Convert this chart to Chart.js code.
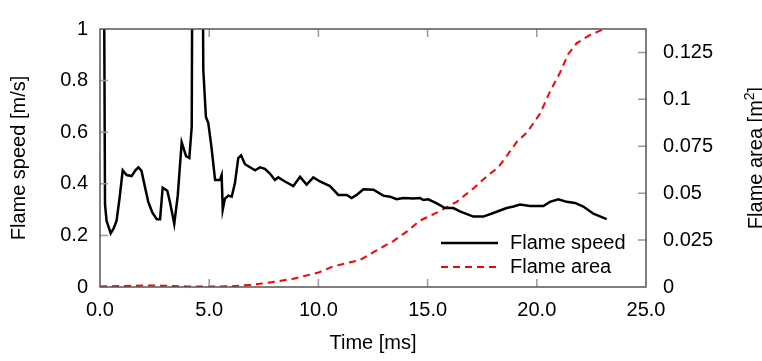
<!DOCTYPE html>
<html><head><meta charset="utf-8">
<script src="https://cdn.jsdelivr.net/npm/chart.js@4/dist/chart.umd.min.js"></script>
<style>html,body{margin:0;padding:0;background:#fff;}#wrap{width:762px;height:361px;}</style>
</head><body><div id="wrap"><canvas id="c" width="762" height="361"></canvas></div>
<script>
const speedTime = [0.18,0.23,0.30,0.49,0.62,0.76,0.90,1.04,1.22,1.45,1.62,1.76,1.90,2.05,2.21,2.40,2.60,2.75,2.87,3.08,3.20,3.40,3.56,3.74,3.94,4.09,4.20,4.28,4.62,4.73,4.85,4.96,5.11,5.27,5.49,5.57,5.62,5.72,5.88,6.03,6.18,6.33,6.46,6.64,6.87,7.10,7.33,7.55,7.78,8.01,8.16,8.47,8.85,9.16,9.46,9.77,10.07,10.53,10.91,11.30,11.52,11.75,12.06,12.52,12.97,13.28,13.58,13.89,14.35,14.65,14.80,15.03,15.42,15.80,16.18,16.48,17.09,17.55,18.01,18.62,18.93,19.23,19.69,20.30,20.60,20.99,21.37,21.75,22.13,22.59,23.20];
const speedValue = [1.3,0.32,0.257,0.208,0.226,0.257,0.348,0.452,0.434,0.43,0.452,0.464,0.45,0.391,0.33,0.288,0.263,0.263,0.385,0.373,0.33,0.245,0.354,0.561,0.507,0.50,0.622,2.5,2.5,0.841,0.659,0.635,0.537,0.415,0.415,0.434,0.30,0.342,0.354,0.35,0.403,0.50,0.51,0.476,0.464,0.452,0.464,0.458,0.44,0.415,0.425,0.409,0.391,0.427,0.397,0.425,0.409,0.391,0.357,0.357,0.345,0.357,0.379,0.377,0.354,0.35,0.34,0.345,0.343,0.345,0.337,0.34,0.324,0.306,0.306,0.293,0.273,0.273,0.287,0.306,0.312,0.32,0.314,0.314,0.33,0.34,0.33,0.326,0.312,0.284,0.263];
const areaTime = [0,1,2,3,4,5,6,7,8,8.85,10.0,10.68,11.9,12.52,13.43,14.04,14.65,15.42,16.33,17.09,17.7,18.24,18.62,19.08,19.54,20.15,20.6,21.06,21.44,21.83,22.44,23.12];
const areaValue = [0.0003,0.0005,0.0008,0.0007,0.0003,0.0002,0.0004,0.0012,0.0028,0.0044,0.0077,0.011,0.0144,0.0186,0.0245,0.0295,0.0354,0.0396,0.0454,0.0525,0.0589,0.0639,0.0698,0.0773,0.0823,0.0924,0.1041,0.1142,0.1242,0.130,0.1343,0.1377];
const xTicks = [0,5,10,15,20,25];
const xTickLabels = ["0.0","5.0","10.0","15.0","20.0","25.0"];
const leftTicks = [0,0.2,0.4,0.6,0.8,1];
const leftTickLabels = ["0","0.2","0.4","0.6","0.8","1"];
const rightTicks = [0,0.025,0.05,0.075,0.1,0.125];
const rightTickLabels = ["0","0.025","0.05","0.075","0.1","0.125"];
const seriesNames = ["Flame speed","Flame area"];

const FONT = "'Liberation Sans', Arial, sans-serif";
function setTicks(vals){ return function(scale){ scale.ticks = vals.map(v=>({value:v})); }; }
function labelCb(vals, labels){ return function(v){ const i = vals.findIndex(t=>Math.abs(t-v)<1e-9); return i>=0?labels[i]:''; }; }

const deco = {
  id:'deco',
  afterDraw(chart){
    const ctx = chart.ctx, a = chart.chartArea;
    const sx = chart.scales.x, sy = chart.scales.y, sy2 = chart.scales.y2;
    ctx.save();
    ctx.strokeStyle = '#9a9a9a'; ctx.lineWidth = 1.5;
    const L = 8;
    ctx.beginPath();
    xTicks.forEach(v=>{ const p = sx.getPixelForValue(v); if (p>a.left+1 && p<a.right-1){ ctx.moveTo(p,a.bottom); ctx.lineTo(p,a.bottom-L); ctx.moveTo(p,a.top); ctx.lineTo(p,a.top+L);} });
    leftTicks.forEach(v=>{ const p = sy.getPixelForValue(v); if (p>a.top+1 && p<a.bottom-1){ ctx.moveTo(a.left,p); ctx.lineTo(a.left+L,p);} });
    rightTicks.forEach(v=>{ const p = sy2.getPixelForValue(v); if (p>a.top+1 && p<a.bottom-1){ ctx.moveTo(a.right,p); ctx.lineTo(a.right-L,p);} });
    ctx.stroke();
    ctx.strokeStyle = '#555'; ctx.lineWidth = 1.5;
    ctx.strokeRect(a.left, a.top, a.right-a.left, a.bottom-a.top);
    // right axis title (reads bottom to top) with superscript
    ctx.fillStyle = '#000';
    ctx.translate(754, (a.top+a.bottom)/2);
    ctx.rotate(-Math.PI/2);
    ctx.textAlign = 'left'; ctx.textBaseline = 'alphabetic';
    const main = '20px ' + FONT, sup = '14px ' + FONT;
    const p1 = 'Flame area [m', p2 = '2', p3 = ']';
    ctx.font = main; const w1 = ctx.measureText(p1).width, w3 = ctx.measureText(p3).width;
    ctx.font = sup; const w2 = ctx.measureText(p2).width;
    let x0 = -(w1+w2+w3)/2;
    ctx.font = main; ctx.fillText(p1, x0, 8);
    ctx.font = sup; ctx.fillText(p2, x0+w1, 0);
    ctx.font = main; ctx.fillText(p3, x0+w1+w2, 8);
    ctx.restore();
    // legend
    ctx.save();
    const ds = chart.data.datasets;
    const ys = [243, 267];
    ds.forEach((d,i)=>{
      ctx.strokeStyle = d.borderColor; ctx.lineWidth = d.borderWidth;
      ctx.setLineDash(d.borderDash || []);
      ctx.beginPath(); ctx.moveTo(441, ys[i]); ctx.lineTo(498, ys[i]); ctx.stroke();
      ctx.setLineDash([]);
      ctx.fillStyle = '#000'; ctx.font = '20px ' + FONT;
      ctx.textAlign = 'left'; ctx.textBaseline = 'middle';
      ctx.fillText(d.label, 510, ys[i]);
    });
    ctx.restore();
  }
};

new Chart(document.getElementById('c'), {
  type: 'line',
  data: {
    datasets: [
      { label: seriesNames[0], data: speedTime.map((t,i)=>({x:t,y:speedValue[i]})), yAxisID:'y',
        borderColor:'#000', borderWidth:2.5, pointRadius:0, tension:0, fill:false },
      { label: seriesNames[1], data: areaTime.map((t,i)=>({x:t,y:areaValue[i]})), yAxisID:'y2',
        borderColor:'#ff0000', borderWidth:2, borderDash:[7,5], pointRadius:0, tension:0, fill:false }
    ]
  },
  options: {
    responsive:false, animation:false, devicePixelRatio:1,
    layout:{ padding:{ left:0, right:0, top:13, bottom:0 } },
    plugins:{ legend:{display:false}, tooltip:{enabled:false} },
    scales:{
      x:{ type:'linear', min:0, max:25, position:'bottom',
        afterBuildTicks: setTicks(xTicks),
        afterFit(s){ s.height = 74; },
        grid:{display:false, drawTicks:false}, border:{display:false},
        ticks:{ padding:11, color:'#000', font:{family:FONT, size:20}, maxRotation:0, autoSkip:false, callback: labelCb(xTicks, xTickLabels) },
        title:{ display:true, text:'Time [ms]', color:'#000', font:{family:FONT, size:20}, padding:{top:0,bottom:6} } },
      y:{ type:'linear', min:0, max:1, position:'left',
        afterBuildTicks: setTicks(leftTicks),
        afterFit(s){ s.width = 100; },
        grid:{display:false, drawTicks:false}, border:{display:false},
        ticks:{ padding:12, color:'#000', font:{family:FONT, size:20}, autoSkip:false, callback: labelCb(leftTicks, leftTickLabels) },
        title:{ display:true, text:'Flame speed [m/s]', color:'#000', font:{family:FONT, size:20}, padding:{top:7,bottom:0} } },
      y2:{ type:'linear', min:0, max:0.1375, position:'right',
        afterBuildTicks: setTicks(rightTicks),
        afterFit(s){ s.width = 116; },
        grid:{display:false, drawTicks:false}, border:{display:false},
        ticks:{ padding:17, color:'#000', font:{family:FONT, size:20}, autoSkip:false, callback: labelCb(rightTicks, rightTickLabels) },
        title:{ display:false } }
    }
  },
  plugins:[deco]
});
</script></body></html>
